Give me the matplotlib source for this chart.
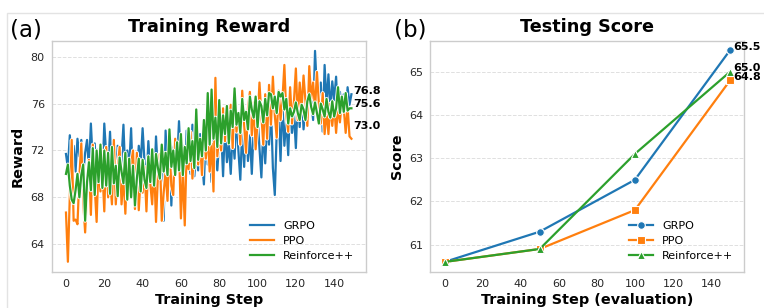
import matplotlib
matplotlib.use("Agg")
import matplotlib.pyplot as plt
import matplotlib.patheffects as pe
from matplotlib.patches import Rectangle
import numpy as np

plt.rcParams['font.family'] = ['DejaVu Sans']

# ---------------- data ----------------
train_steps = list(range(150))

grpo_reward = [
    71.7, 70.5, 73.3, 71.0, 72.4, 70.2, 73.0, 71.5, 72.9, 70.0,
    71.8, 72.9, 70.4, 74.3, 71.0, 72.6, 69.8, 72.1, 71.3, 69.5,
    74.3, 71.6, 70.2, 73.6, 69.6, 72.2, 70.0, 72.4, 68.8, 71.3,
    74.2, 69.7, 72.0, 70.5, 73.9, 68.9, 71.4, 69.7, 72.4, 70.9,
    73.9, 71.0, 69.2, 72.8, 70.2, 71.6, 68.6, 73.2, 70.0, 69.2,
    71.6, 66.0, 73.7, 70.2, 73.7, 67.3, 72.0, 73.0, 71.0, 74.5,
    70.8, 72.4, 69.5, 73.7, 71.2, 70.0, 74.2, 69.8, 72.0, 70.3,
    73.4, 71.2, 69.1, 73.8, 70.8, 72.5, 69.3, 74.8, 71.2, 70.3,
    72.9, 73.8, 69.8, 74.3, 71.0, 72.6, 70.0, 73.6, 71.3, 75.1,
    72.0, 69.5, 73.9, 70.6, 74.6, 71.1, 73.3, 70.0, 74.0, 72.1,
    75.0, 72.2, 69.7, 73.9, 70.9, 74.4, 72.5, 75.7, 70.5, 68.2,
    73.6, 75.2, 71.1, 76.3, 72.4, 74.7, 71.6, 76.0, 73.5, 75.2,
    72.2, 76.5, 74.0, 77.5, 73.8, 75.6, 74.4, 77.6, 76.2, 74.6,
    80.5, 77.0, 75.0, 77.8, 73.6, 79.3, 76.0, 78.5, 75.4, 77.9,
    76.3, 78.3, 74.6, 77.0, 75.3, 76.8, 74.9, 77.4, 75.9, 76.8,
]

ppo_reward = [
    66.7, 62.5, 68.1, 72.9, 66.0, 66.1, 65.7, 69.8, 72.6, 67.7,
    65.0, 68.6, 71.2, 66.5, 72.5, 68.9, 65.9, 71.0, 68.5, 70.4,
    66.8, 72.3, 68.0, 69.6, 67.4, 72.9, 67.4, 70.5, 72.3, 67.4,
    69.8, 66.6, 71.2, 68.0, 70.9, 72.0, 67.0, 71.8, 66.9, 69.7,
    68.4, 70.6, 66.8, 71.3, 69.2, 67.4, 70.8, 65.9, 69.9, 71.7,
    66.0, 68.4, 70.2, 67.7, 72.3, 69.0, 68.2, 73.0, 70.6, 72.2,
    66.2, 70.3, 65.6, 72.1, 70.4, 73.6, 69.6, 71.9, 74.3, 70.8,
    72.7, 69.9, 74.1, 71.3, 73.5, 70.2, 72.6, 68.5, 78.2, 71.5,
    73.4, 72.0, 75.6, 72.8, 74.3, 73.4, 75.9, 72.2, 76.7, 73.6,
    75.2, 72.5, 77.1, 74.2, 71.8, 75.6, 77.0, 73.3, 76.1, 72.1,
    74.4, 77.8, 75.0, 72.5, 76.8, 73.0, 77.6, 74.2, 78.3, 75.0,
    73.1, 77.1, 74.6, 76.4, 79.3, 75.0, 73.6, 77.4, 74.3, 76.2,
    79.0, 74.6, 77.8, 75.6, 78.4, 76.3, 74.1, 79.2, 76.4, 77.8,
    75.5, 78.7, 76.0, 74.3, 76.9, 73.4, 75.4, 73.4, 76.0, 74.1,
    75.9, 73.5, 75.7, 74.4, 76.3, 75.6, 73.5, 75.7, 73.2, 73.0,
]

reinforce_reward = [
    70.0, 70.8, 69.0, 67.8, 67.5, 68.6, 70.0, 68.0, 69.9, 70.8,
    66.0, 69.3, 71.0, 68.6, 72.2, 68.2, 72.0, 69.3, 72.5, 68.8,
    72.0, 69.0, 71.8, 68.3, 72.3, 69.2, 70.7, 68.1, 71.4, 70.2,
    69.2, 71.8, 67.8, 71.3, 68.0, 70.7, 67.3, 69.6, 71.3, 68.5,
    71.2, 69.5, 68.8, 71.5, 69.3, 72.1, 69.0, 71.7, 70.5, 69.6,
    72.5, 70.2, 71.8, 69.9, 73.8, 70.6, 72.0, 69.9, 72.7, 70.3,
    73.4, 69.9, 72.3, 70.9, 73.9, 71.1, 72.8, 70.5, 75.5, 71.2,
    73.0, 71.5, 74.6, 72.0, 76.9, 72.5, 77.2, 73.0, 74.8, 72.3,
    76.3, 72.6, 75.0, 73.4, 75.8, 72.6, 75.4, 74.0, 77.3, 74.2,
    75.2, 73.5, 76.4, 74.6, 75.3, 73.8, 76.6, 75.5, 74.8, 76.6,
    74.0, 76.2, 75.8, 74.4, 76.4, 75.0, 76.9, 76.8, 75.6, 76.6,
    75.2, 77.0, 76.6, 76.9, 75.5, 76.4, 74.3, 75.6, 74.9, 75.3,
    76.1, 75.2, 74.6, 75.9, 75.5, 74.6, 76.2, 76.8, 75.7, 75.1,
    76.1, 75.2, 74.3, 76.0, 75.5, 74.9, 76.4, 75.3, 74.8, 76.2,
    74.9, 75.6, 77.4, 75.2, 76.6, 75.3, 76.9, 75.4, 75.6, 75.6,
]

eval_steps = [0, 50, 100, 150]
grpo_score = [60.6, 61.3, 62.5, 65.5]
ppo_score = [60.6, 60.9, 61.8, 64.8]
reinforce_score = [60.6, 60.9, 63.1, 65.0]

methods = ['GRPO', 'PPO', 'Reinforce++']
colors = ['#1f77b4', '#ff7f0e', '#2ca02c']
markers = ['o', 's', '^']

train_yticks = [64, 68, 72, 76, 80]
eval_yticks = [61, 62, 63, 64, 65]
xticks = [0, 20, 40, 60, 80, 100, 120, 140]

# ---------------- figure ----------------
W, H = 764, 308
fig = plt.figure(figsize=(W / 100, H / 100), dpi=100)
fig.patch.set_facecolor('white')

# light frame around the figure
fig.patches.append(Rectangle((7 / W, -0.05), 1.1, (H - 13) / H + 0.05,
                             transform=fig.transFigure, fill=False,
                             edgecolor='#e3e3e3', linewidth=1.0, zorder=0))

ax1 = fig.add_axes([51.7 / W, (H - 272.3) / H, 314 / W, 231.6 / H])
ax2 = fig.add_axes([430.3 / W, (H - 272.3) / H, 314 / W, 231.6 / H])

tick_col = '#262626'
spine_col = '#cccccc'


def style(ax):
    for s in ax.spines.values():
        s.set_color(spine_col)
        s.set_linewidth(1.0)
    ax.tick_params(axis='both', length=0, pad=5, labelsize=8, colors=tick_col)
    ax.grid(axis='y', linestyle='--', color='#e0e0e0', linewidth=0.7)
    ax.grid(axis='x', visible=False)
    ax.set_axisbelow(True)


# ---- panel (a) ----
style(ax1)
rewards = [grpo_reward, ppo_reward, reinforce_reward]
for name, col, vals in zip(methods, colors, rewards):
    ax1.plot(train_steps, vals, color=col, lw=1.6, label=name,
             path_effects=[pe.Stroke(linewidth=2.8, foreground='white'), pe.Normal()])
ax1.set_xlim(-7.45, 156.45)
ax1.set_ylim(61.6, 81.37)
ax1.set_yticks(train_yticks)
ax1.set_xticks(xticks)
ax1.set_title('Training Reward', fontsize=12.7, fontweight='bold', pad=6)
ax1.set_xlabel('Training Step', fontsize=10.4, fontweight='bold', labelpad=3)
ax1.set_ylabel('Reward', fontsize=10.4, fontweight='bold', labelpad=4)

offs_a = {'GRPO': 2.6, 'PPO': 9.4, 'Reinforce++': 3.2}
for name, vals in zip(methods, rewards):
    ax1.annotate(f'{vals[-1]:.1f}', xy=(train_steps[-1], vals[-1]),
                 xytext=(1.5, offs_a[name]), textcoords='offset points',
                 ha='left', va='center', fontsize=8, fontweight='bold',
                 annotation_clip=False)

leg1 = ax1.legend(loc='lower right', frameon=False, fontsize=8,
                  handlelength=2.2, borderaxespad=0.6, labelspacing=0.45)

# ---- panel (b) ----
style(ax2)
scores = [grpo_score, ppo_score, reinforce_score]
for name, col, mk, vals in zip(methods, colors, markers, scores):
    ax2.plot(eval_steps, vals, color=col, lw=1.6, marker=mk, markersize=5.5,
             markeredgecolor='white', markeredgewidth=0.8, label=name)
ax2.set_xlim(-7.5, 157.5)
ax2.set_ylim(60.36, 65.72)
ax2.set_yticks(eval_yticks)
ax2.set_xticks(xticks)
ax2.set_title('Testing Score', fontsize=12.7, fontweight='bold', pad=6)
ax2.set_xlabel('Training Step (evaluation)', fontsize=10.4, fontweight='bold', labelpad=3)
ax2.set_ylabel('Score', fontsize=10.4, fontweight='bold', labelpad=4)

for name, vals in zip(methods, scores):
    ax2.annotate(f'{vals[-1]:.1f}', xy=(eval_steps[-1], vals[-1]),
                 xytext=(2, 2.5), textcoords='offset points',
                 ha='left', va='center', fontsize=8, fontweight='bold',
                 annotation_clip=False)

leg2 = ax2.legend(loc='lower right', frameon=False, fontsize=8,
                  handlelength=2.2, borderaxespad=0.6, labelspacing=0.45)

fig.text(10 / W, 1 - 30 / H, '(a)', fontsize=16.5, va='center', ha='left')
fig.text(394 / W, 1 - 30 / H, '(b)', fontsize=16.5, va='center', ha='left')

fig.savefig('out.png', dpi=100, facecolor='white')
